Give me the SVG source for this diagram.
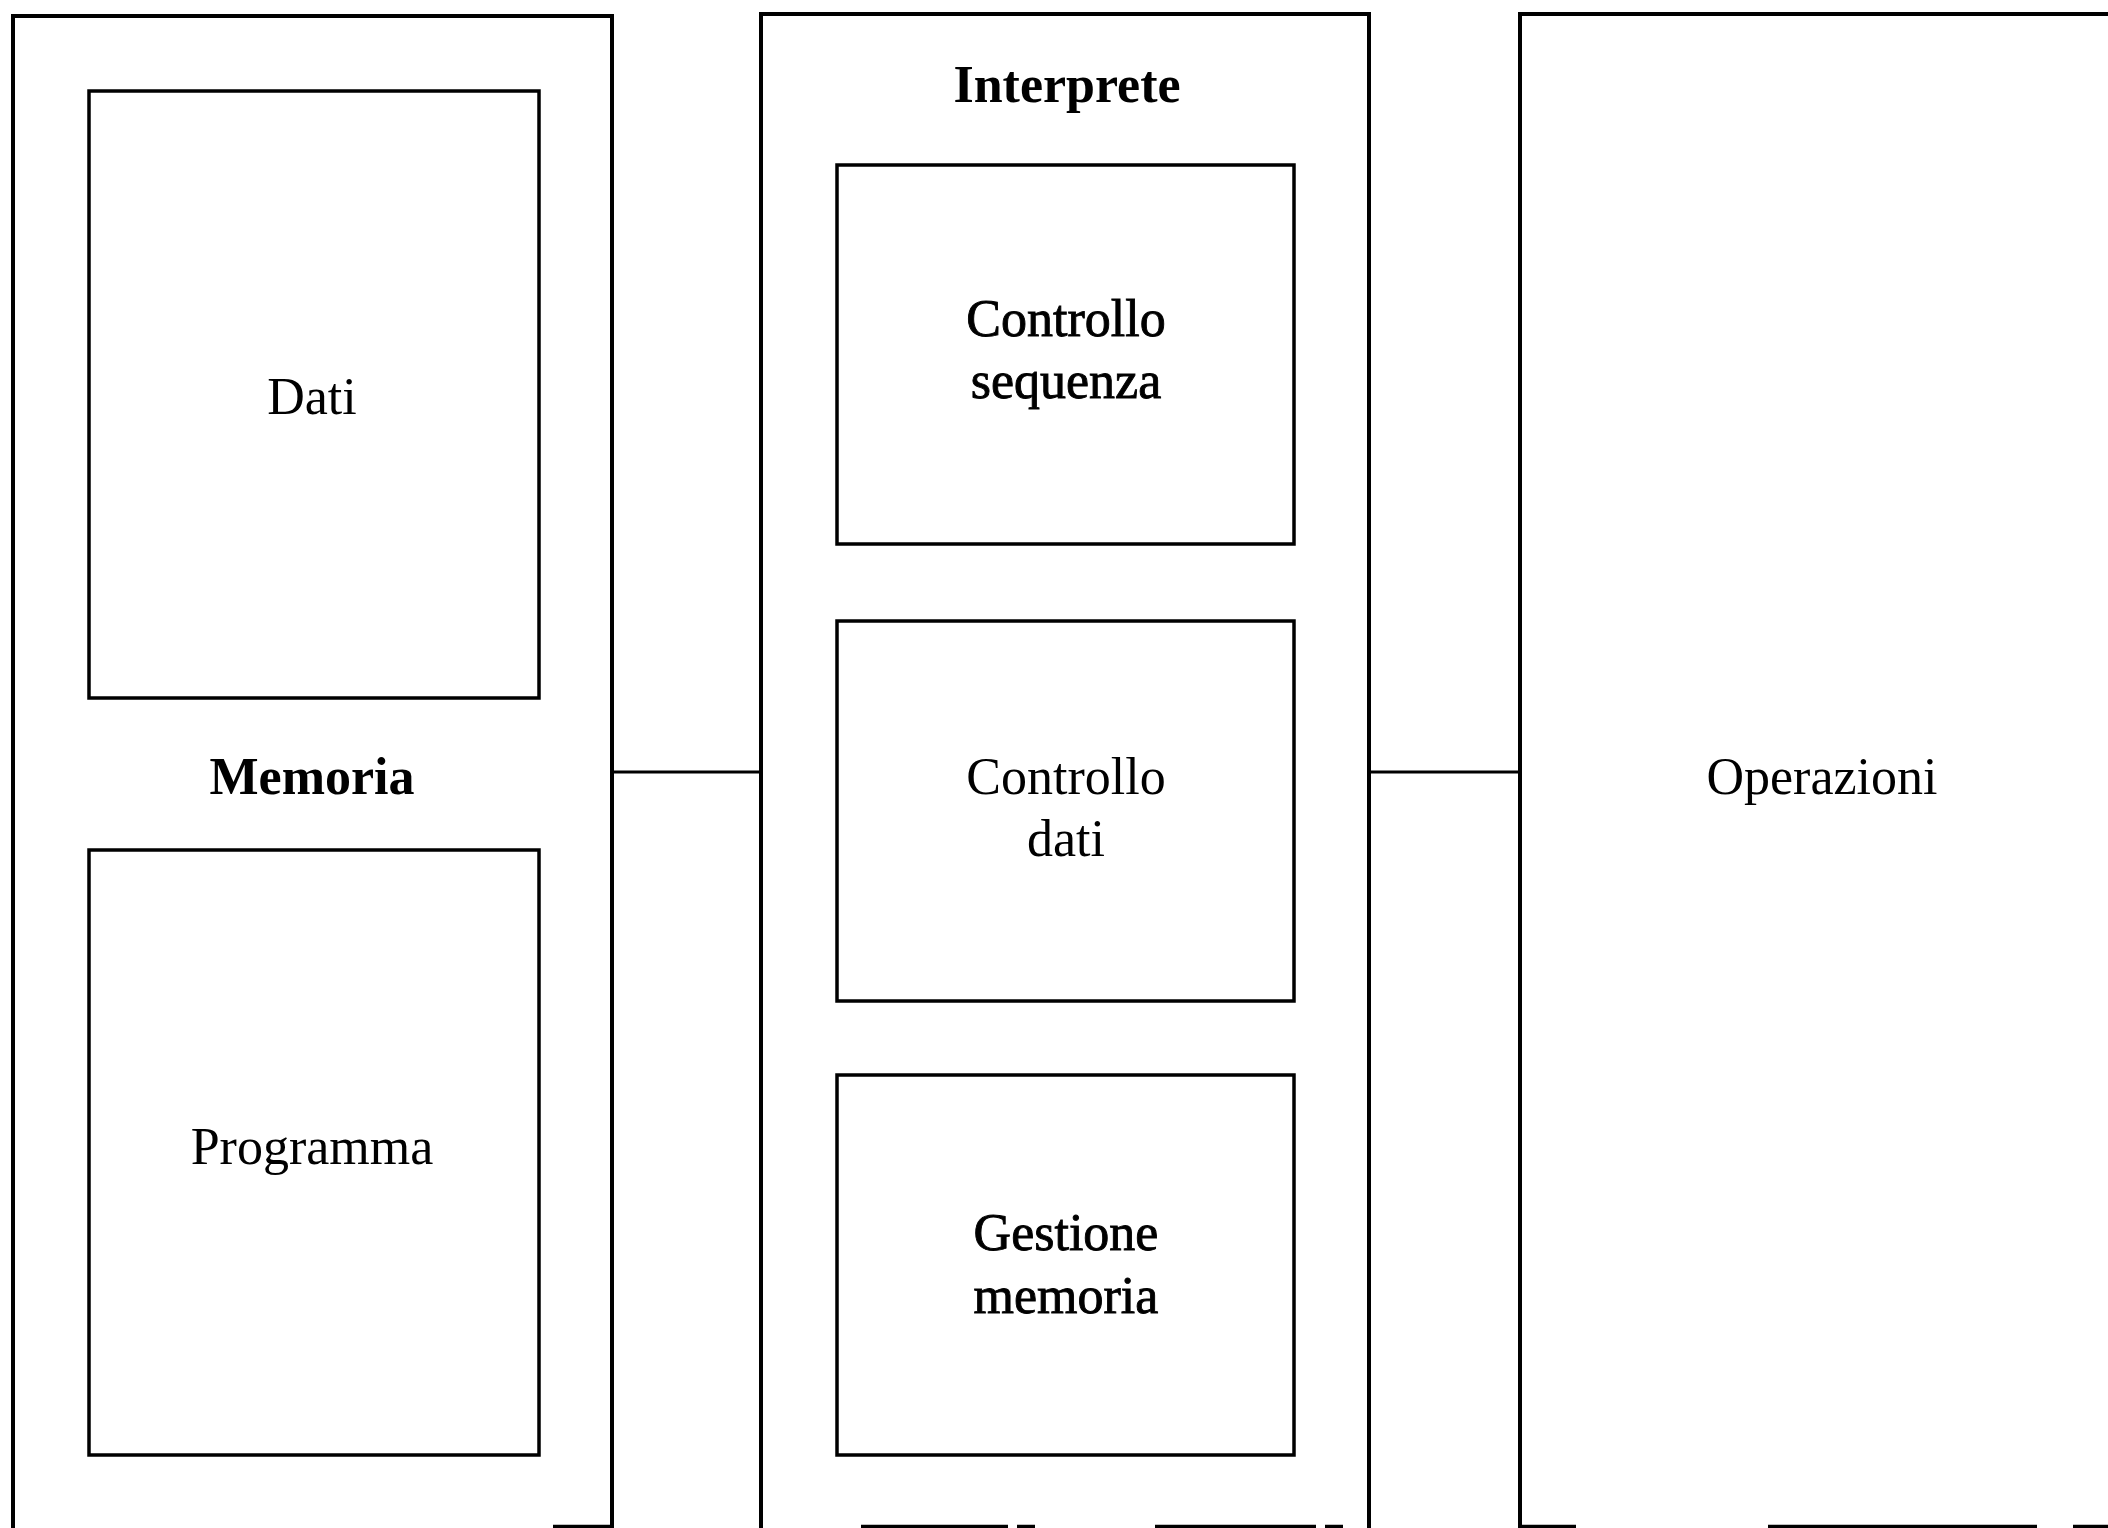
<svg xmlns="http://www.w3.org/2000/svg" width="2108" height="1528" viewBox="0 0 2108 1528">
  <style>
    .frame { fill: none; stroke: #000; stroke-width: 4; stroke-linejoin: miter; }
    .box { fill: none; stroke: #000; stroke-width: 3.5; }
    .edge { fill: none; stroke: #000; stroke-width: 3.5; }
    .link { fill: none; stroke: #000; stroke-width: 3; }
    text { font-family: "Liberation Serif", "Times New Roman", serif; font-size: 52px; fill: #000; text-anchor: middle; }
    .title { font-weight: bold; }
    .heavy { stroke: #000; stroke-width: 0.9; }
  </style>
  <rect width="2108" height="1528" fill="#fff"/>

  <!-- Memoria block -->
  <g id="memoria">
    <path class="frame" d="M13,1528 V16 H612 V1528"/>
    <line class="edge" x1="553" y1="1526.5" x2="612" y2="1526.5"/>
    <text class="title" x="312" y="794">Memoria</text>
  </g>
  <g id="dati">
    <rect class="box" x="89" y="91" width="450" height="607"/>
    <text x="312" y="414">Dati</text>
  </g>
  <g id="programma">
    <rect class="box" x="89" y="850" width="450" height="605"/>
    <text x="312" y="1164">Programma</text>
  </g>

  <!-- Interprete block -->
  <g id="interprete">
    <path class="frame" d="M761,1528 V14 H1369 V1528"/>
    <line class="edge" x1="861" y1="1526.5" x2="1008" y2="1526.5"/>
    <line class="edge" x1="1017" y1="1526.5" x2="1035" y2="1526.5"/>
    <line class="edge" x1="1155" y1="1526.5" x2="1316" y2="1526.5"/>
    <line class="edge" x1="1325" y1="1526.5" x2="1343" y2="1526.5"/>
    <text class="title" x="1067" y="102">Interprete</text>
  </g>
  <g id="controllo-sequenza">
    <rect class="box" x="837" y="165" width="457" height="379"/>
    <text class="heavy" x="1066" y="336">Controllo</text>
    <text class="heavy" x="1066" y="398">sequenza</text>
  </g>
  <g id="controllo-dati">
    <rect class="box" x="837" y="621" width="457" height="380"/>
    <text x="1066" y="794">Controllo</text>
    <text x="1066" y="856">dati</text>
  </g>
  <g id="gestione-memoria">
    <rect class="box" x="837" y="1075" width="457" height="380"/>
    <text class="heavy" x="1066" y="1250">Gestione</text>
    <text class="heavy" x="1066" y="1313">memoria</text>
  </g>

  <!-- Operazioni block (runs past the right edge) -->
  <g id="operazioni">
    <path class="frame" d="M1520,1528 V14 H2110"/>
    <line class="edge" x1="1518" y1="1526.5" x2="1576" y2="1526.5"/>
    <line class="edge" x1="1768" y1="1526.5" x2="2037" y2="1526.5"/>
    <line class="edge" x1="2073" y1="1526.5" x2="2108" y2="1526.5"/>
    <text x="1822" y="794">Operazioni</text>
  </g>

  <!-- Connectors -->
  <g id="connectors">
    <line class="link" x1="612" y1="772" x2="761" y2="772"/>
    <line class="link" x1="1369" y1="772" x2="1520" y2="772"/>
  </g>
</svg>
